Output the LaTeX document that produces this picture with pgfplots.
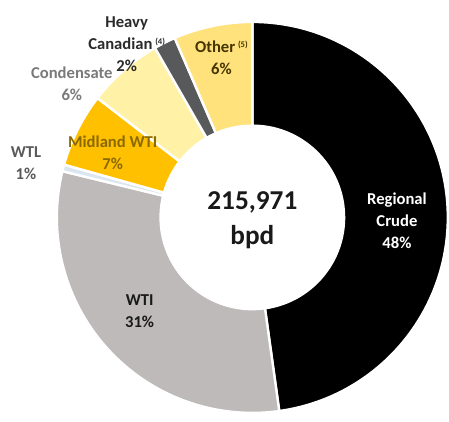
\documentclass[border=0pt]{standalone}
\usepackage{pgfplots}
\pgfplotsset{compat=1.18}
\usepackage{pgfplotstable}
\usepackage{fontspec}
\setmainfont{Carlito}
\definecolor{cReg}{HTML}{000000}
\definecolor{cWTI}{HTML}{BEBABA}
\definecolor{cWTL}{HTML}{DCE6F1}
\definecolor{cMid}{HTML}{FFC000}
\definecolor{cCond}{HTML}{FFF1A6}
\definecolor{cHeavy}{HTML}{58595B}
\definecolor{cOther}{HTML}{FFE27C}
\definecolor{tMid}{HTML}{8A6A00}
\definecolor{tOther}{HTML}{453500}
\definecolor{tCond}{HTML}{7A7A7A}
\definecolor{tWTL}{HTML}{595959}
\definecolor{tHeavy}{HTML}{2A2A2A}
\pgfplotstableread{
name value col
Regional 47.8 cReg
WTI 31.0 cWTI
WTL 0.55 cWTL
Midland 6.1 cMid
Condensate 6.25 cCond
Heavy 1.8 cHeavy
Other 6.5 cOther
}\piedata
\begin{document}
\begin{tikzpicture}[x=0.75pt,y=0.75pt]
\begin{axis}[
  x=0.75pt, y=0.75pt, scale only axis, hide axis, disabledatascaling,
  xmin=0, xmax=449, ymin=0, ymax=419, clip=false]
\path (axis cs:0,0) rectangle (axis cs:449,419);
\def\cum{0}
\pgfplotsforeachungrouped \i in {0,...,6}{%
  \pgfplotstablegetelem{\i}{value}\of\piedata \let\sliceval\pgfplotsretval
  \pgfplotstablegetelem{\i}{col}\of\piedata \let\slicecol\pgfplotsretval
  \pgfmathsetmacro\aone{90-3.6*\cum}%
  \pgfmathsetmacro\cum{\cum+\sliceval}%
  \pgfmathsetmacro\atwo{90-3.6*\cum}%
  \edef\slice{\noexpand\filldraw[fill=\slicecol, draw=white, line width=1.8pt, line join=miter]
    (axis cs:253,201) ++(\aone:196) arc[start angle=\aone, end angle=\atwo, radius=196]
    -- ++(\atwo:-104) arc[start angle=\atwo, end angle=\aone, radius=92] -- cycle;}%
  \slice
}
\begin{scope}[font=\bfseries\fontsize{12.5}{16.5}\selectfont, align=center]
\node[white] at (axis cs:398,198) {Regional\\Crude\\48\%};
\node[black!90] at (axis cs:140,107) {WTI\\31\%};
\node[tWTL] at (axis cs:26,255) {WTL\\1\%};
\node[tMid] at (axis cs:113,266) {Midland WTI\\7\%};
\node[tCond] at (axis cs:72,335) {Condensate\\6\%};
\node[tHeavy] at (axis cs:127,375) {Heavy\\Canadian\,\raisebox{0.6ex}{\fontsize{6.5}{7}\selectfont(4)}\\2\%};
\node[tOther] at (axis cs:222,361) {Other\,\raisebox{0.6ex}{\fontsize{6.5}{7}\selectfont(5)}\\6\%};
\end{scope}
\node[font=\bfseries\fontsize{20.5}{26}\selectfont, align=center, black!90] at (axis cs:253,198) {215,971\\bpd};
\end{axis}
\end{tikzpicture}
\end{document}
